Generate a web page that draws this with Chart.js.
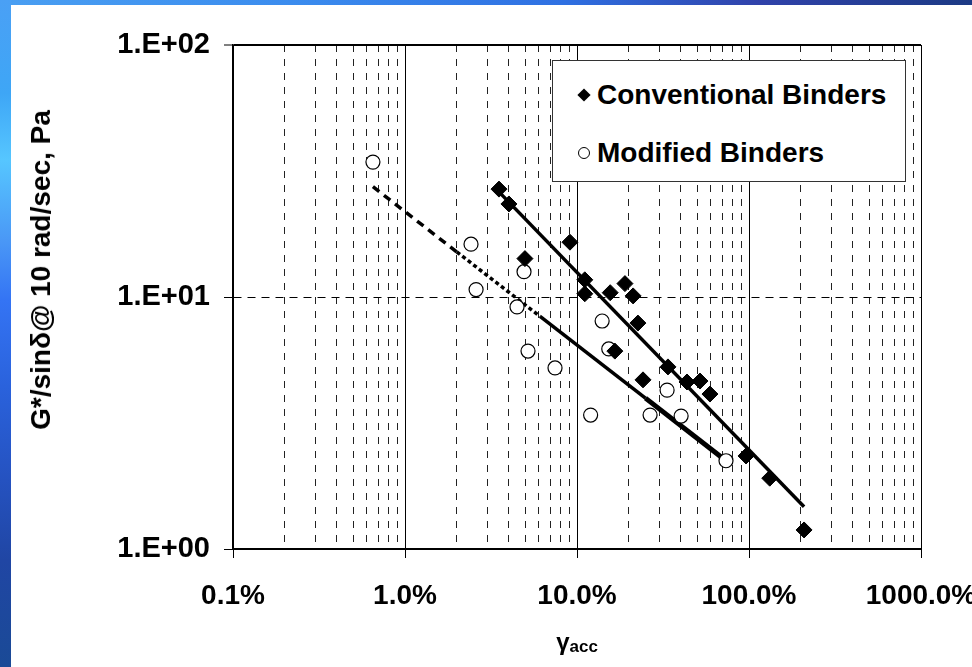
<!DOCTYPE html>
<html>
<head>
<meta charset="utf-8">
<script src="https://cdn.jsdelivr.net/npm/chart.js@4.4.0/dist/chart.umd.min.js"></script>
<style>
  html, body { margin: 0; padding: 0; background: #fff; }
  #wrap { position: relative; width: 972px; height: 667px; overflow: hidden; background: #fff; }
  #c { position: absolute; left: 0; top: 0; }
  #topbar { position: absolute; left: 0; top: 0; width: 972px; height: 5px; z-index: 3;
    background: linear-gradient(to right, #4a9ff2 0%, #3b8cee 30%, #2f70e2 58%, #3042aa 78%, #1c3a84 100%); }
  #leftbar { position: absolute; left: 0; top: 0; width: 11px; height: 667px; z-index: 3;
    background: linear-gradient(to bottom, #4aa0f5 0%, #3ea6f6 14%, #56c6ff 24%, #4a98f6 36%, #3474f4 45%, #2a62dc 58%, #2552c0 72%, #2046a4 84%, #1a4a96 100%); }
  #legend { position: absolute; left: 552px; top: 60px; width: 352px; height: 120px; border: 1.5px solid #333;
    background: #fff; z-index: 2; font-family: "Liberation Sans", Arial, sans-serif; font-weight: bold; font-size: 28px; color: #000; }
  .row { position: absolute; left: 0; height: 40px; line-height: 40px; white-space: nowrap; }
  .mk { position: absolute; left: 25px; top: 14px; width: 12px; height: 12px; box-sizing: border-box; }
  .mk.diamond { background: #000; transform: rotate(45deg) scale(0.78); }
  .mk.circle { border: 1.3px solid #000; border-radius: 50%; background: #fff; }
  .lbl { position: absolute; left: 44px; top: 0; }
  #xtitle { position: absolute; left: 577px; top: 628px; transform: translateX(-50%); z-index: 2;
    font-family: "Liberation Sans", Arial, sans-serif; font-weight: bold; font-size: 24px; color: #000; white-space: nowrap; }
  #xtitle sub { font-size: 17px; vertical-align: -2px; }
  #ytitle { position: absolute; left: 41px; top: 270px; transform: translate(-50%, -50%) rotate(-90deg); z-index: 2;
    font-family: "Liberation Sans", Arial, sans-serif; font-weight: bold; font-size: 28px; color: #000; white-space: nowrap; line-height: 1; }
</style>
</head>
<body>
<div id="wrap">
  <canvas id="c" width="972" height="667"></canvas>
  <div id="topbar"></div>
  <div id="leftbar"></div>
  <div id="legend"></div>
  <div id="xtitle">γ<sub>acc</sub></div>
  <div id="ytitle"></div>
</div>
<script>
// ---- data ----
const convLabel = 'Conventional Binders';
const convX = [3.52, 4.02, 9.1, 4.98, 11.1, 11.1, 15.6, 19.0, 21.2, 22.6, 16.6, 24.2, 33.8, 43.6, 51.9, 59.3, 96.1, 132, 209];
const convY = [26.8, 23.4, 16.5, 14.2, 11.7, 10.3, 10.4, 11.3, 10.1, 7.88, 6.1, 4.69, 5.28, 4.6, 4.64, 4.12, 2.34, 1.91, 1.19];

const modLabel = 'Modified Binders';
const modX = [0.651, 2.42, 2.59, 4.92, 4.48, 5.19, 7.45, 12.0, 14.0, 15.3, 26.6, 33.4, 40.3, 73.5];
const modY = [34.3, 16.2, 10.7, 12.6, 9.13, 6.1, 5.23, 3.40, 8.03, 6.22, 3.40, 4.27, 3.37, 2.24];

// trend lines
const convFitX = [3.34, 209];
const convFitY = [27.1, 1.47];
const modFitX = [0.651, 2.0, 6.1, 25, 73.5];
const modFitY = [27.4, 15.1, 8.37, 3.97, 2.24];

// axes
const xDecades = [0.1, 1, 10, 100, 1000];
const xTickLabels = ['0.1%', '1.0%', '10.0%', '100.0%', '1000.0%'];
const yDecades = [1, 10, 100];
const yTickLabels = ['1.E+00', '1.E+01', '1.E+02'];
const yTitle = 'G*/sinδ@ 10 rad/sec, Pa';

const FONT = '"Liberation Sans", Arial, sans-serif';
const toPts = (xs, ys) => xs.map((x, i) => ({ x: x, y: ys[i] }));
const isDecade = v => xDecades.some(d => Math.abs(v - d) / d < 1e-6);

// minor x gridlines at 2..9 of each decade
const xGridVals = [];
xDecades.forEach((d, i) => {
  xGridVals.push(d);
  if (i < xDecades.length - 1) for (let k = 2; k <= 9; k++) xGridVals.push(+(d * k).toPrecision(6));
});

const chart = new Chart(document.getElementById('c'), {
  type: 'scatter',
  data: {
    datasets: [
      { label: convLabel, data: toPts(convX, convY), pointStyle: 'rectRot', pointRadius: 8, pointHoverRadius: 8,
        backgroundColor: '#000', borderColor: '#000', borderWidth: 1, showLine: false, order: 1, legendMarker: 'diamond' },
      { label: modLabel, data: toPts(modX, modY), pointStyle: 'circle', pointRadius: 7, pointHoverRadius: 7,
        backgroundColor: '#fff', borderColor: '#000', borderWidth: 1.2, showLine: false, order: 2, legendMarker: 'circle' },
      { label: 'conv fit', data: toPts(convFitX, convFitY), showLine: true, pointRadius: 0, borderColor: '#000',
        borderWidth: 3.5, order: 3 },
      { label: 'mod fit', data: toPts(modFitX, modFitY), showLine: true, pointRadius: 0, borderColor: '#000',
        borderWidth: 3, order: 4, borderCapStyle: 'butt',
        segment: {
          borderDash: c => c.p0DataIndex === 0 ? [8, 6] : (c.p0DataIndex === 1 ? [4, 3] : []),
          borderWidth: c => c.p0DataIndex >= 3 ? 5 : 3.5
        } }
    ]
  },
  options: {
    responsive: false,
    animation: false,
    events: [],
    layout: { padding: { left: 12, right: 51, top: 45, bottom: 0 } },
    plugins: { legend: { display: false }, tooltip: { enabled: false } },
    scales: {
      x: {
        type: 'logarithmic', min: 0.1, max: 1000,
        afterBuildTicks: s => { s.ticks = xGridVals.map(v => ({ value: v, major: isDecade(v) })); },
        afterFit: s => { s.height = 118; s.paddingLeft = 0; s.paddingRight = 0; },
        ticks: {
          autoSkip: false, maxRotation: 0, padding: 21, color: '#000',
          font: { family: FONT, size: 28, weight: 'bold' },
          callback: v => { const i = xDecades.findIndex(d => Math.abs(v - d) / d < 1e-6); return i >= 0 ? xTickLabels[i] : ''; }
        },
        grid: {
          color: c => (c.tick && isDecade(c.tick.value)) ? '#000' : '#222',
          lineWidth: 1,
          tickLength: 9,
          tickColor: c => (c.tick && isDecade(c.tick.value)) ? '#000' : 'rgba(0,0,0,0)',
          tickWidth: 1
        },
        border: { display: true, color: '#000', width: 2, dash: c => (c.tick && !isDecade(c.tick.value)) ? [7, 7] : [] }
      },
      y: {
        type: 'logarithmic', min: 1, max: 100,
        afterBuildTicks: s => { s.ticks = yDecades.map(v => ({ value: v, major: true })); },
        afterFit: s => { s.width = 221; s.paddingTop = 0; s.paddingBottom = 0; },
        ticks: {
          padding: 14, color: '#000', font: { family: FONT, size: 29, weight: 'bold' },
          callback: v => { const i = yDecades.findIndex(d => Math.abs(v - d) / d < 1e-6); return i >= 0 ? yTickLabels[i] : ''; }
        },
        grid: {
          color: '#000',
          lineWidth: c => (c.tick && c.tick.value === 100) ? 2 : 1,
          tickLength: 9, tickColor: '#000', tickWidth: 1
        },
        border: { display: true, color: '#000', width: 1.5, dash: c => (c.tick && c.tick.value === 10) ? [8, 6] : [] },
        title: { display: false }
      }
    }
  }
});

document.getElementById('ytitle').textContent = yTitle;

// HTML legend built from the datasets
const leg = document.getElementById('legend');
chart.data.datasets.filter(d => d.legendMarker).forEach((d, i) => {
  const row = document.createElement('div');
  row.className = 'row';
  row.style.top = (i === 0 ? 14 : 72) + 'px';
  row.innerHTML = '<span class="mk ' + d.legendMarker + '"></span><span class="lbl"></span>';
  row.querySelector('.lbl').textContent = d.label;
  leg.appendChild(row);
});
</script>
</body>
</html>
